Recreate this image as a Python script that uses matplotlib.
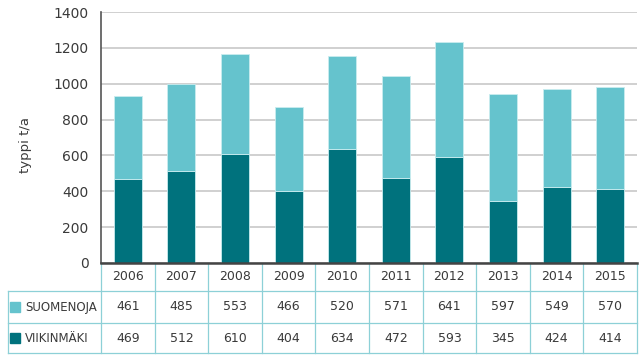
import matplotlib.pyplot as plt
import matplotlib.transforms as mtransforms
import numpy as np

years = ['2006', '2007', '2008', '2009', '2010', '2011', '2012', '2013', '2014', '2015']
suomenoja = [461, 485, 553, 466, 520, 571, 641, 597, 549, 570]
viikinmaki = [469, 512, 610, 404, 634, 472, 593, 345, 424, 414]
series_names = ['SUOMENOJA', 'VIIKINMÄKI']

light = '#65c3cd'
dark = '#00727d'
line_c = '#8dd0d7'
txt = '#3a3a3a'

plt.rcParams['font.family'] = ['DejaVu Sans']

fig = plt.figure(figsize=(6.4, 3.55), dpi=100)
W, H = 640, 355

# pixel overlay for the table
tax = fig.add_axes([0, 0, 1, 1], zorder=0)
tax.set_xlim(0, W)
tax.set_ylim(H, 0)
tax.axis('off')

ax = fig.add_axes([101 / W, 1 - 263 / H, (637 - 101) / W, (263 - 12) / H], zorder=1)
ax.patch.set_alpha(0)
x = np.arange(len(years))
ax.bar(x, viikinmaki, width=0.52, color=dark, edgecolor='#c9ecef', linewidth=0.6, zorder=3)
ax.bar(x, suomenoja, bottom=viikinmaki, width=0.52, color=light, edgecolor='#c9ecef',
       linewidth=0.6, zorder=3)
ax.set_xlim(-0.5, len(years) - 0.5)
ax.set_ylim(0, 1400)
ax.set_yticks(range(0, 1401, 200))
ax.set_yticklabels([str(v) for v in range(0, 1401, 200)], fontsize=10, color=txt)
ax.set_xticks([])
ax.yaxis.grid(True, color='#c8c8c8', linewidth=1.2, zorder=0)
ax.tick_params(axis='y', length=0, pad=9)
for s in ['top', 'right']:
    ax.spines[s].set_visible(False)
ax.spines['left'].set_color('#555555')
ax.spines['left'].set_linewidth(1.2)
ax.spines['bottom'].set_color('#444444')
ax.spines['bottom'].set_linewidth(1.8)
ax.spines['bottom'].set_zorder(5)
ax.set_ylabel('typpi t/a', fontsize=9.5, color=txt)
ax.yaxis.set_label_coords(-69 / (637 - 101), 0.47)

# table
tr = mtransforms.blended_transform_factory(ax.transData, tax.transData)
y_top, y1, y2, y_bot = 263, 291, 323, 353
n = len(years)
for i in range(n + 1):
    tax.plot([i - 0.5, i - 0.5], [y_top, y_bot], color=line_c, lw=0.9, transform=tr, clip_on=False)
tax.plot([8, 8], [y1, y_bot], color=line_c, lw=0.9)
for yy in [y1, y2, y_bot]:
    tax.plot([8, W - 3], [yy, yy], color=line_c, lw=0.9)

for i in range(n):
    tax.text(i, (y_top + y1) / 2, years[i], transform=tr, ha='center', va='center',
             fontsize=9, color=txt)
    tax.text(i, (y1 + y2) / 2, str(suomenoja[i]), transform=tr, ha='center', va='center',
             fontsize=9, color=txt)
    tax.text(i, (y2 + y_bot) / 2, str(viikinmaki[i]), transform=tr, ha='center', va='center',
             fontsize=9, color=txt)

for name, col, (ya, yb) in zip(series_names, [light, dark], [(y1, y2), (y2, y_bot)]):
    yc = (ya + yb) / 2
    tax.add_patch(plt.Rectangle((10, yc - 5.5), 10, 10, color=col))
    tax.text(25, yc, name, ha='left', va='center', fontsize=8.5, color=txt)

fig.savefig('out.png', dpi=100)
